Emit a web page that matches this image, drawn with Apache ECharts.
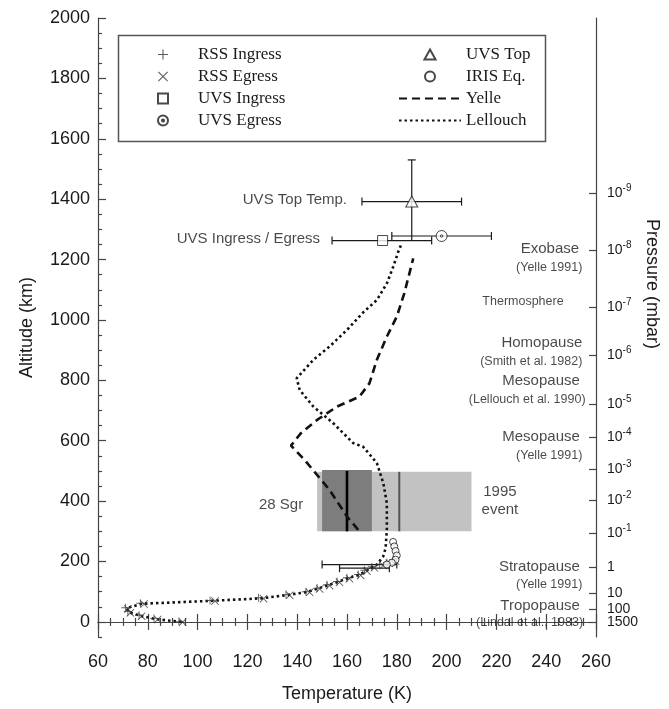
<!DOCTYPE html>
<html><head><meta charset="utf-8">
<script src="https://cdn.jsdelivr.net/npm/echarts@6/dist/echarts.min.js"></script>
<style>html,body{margin:0;padding:0;background:#fff}#c{width:669px;height:709px}</style>
</head><body><div id="c"></div>
<script>
// ---------------- data ----------------
const altitudeTicks = [0, 200, 400, 600, 800, 1000, 1200, 1400, 1600, 1800, 2000];
const altitudeMinorTicks = [-50, 50, 100, 150, 250, 300, 350, 450, 500, 550, 650, 700, 750, 850, 900, 950, 1050, 1100, 1150, 1250, 1300, 1350, 1450, 1500, 1550, 1650, 1700, 1750, 1850, 1900, 1950];
const pressureAlt = [0, 43, 96, 182, 295, 404, 507, 613, 722, 884, 1043, 1232, 1420];
const pressureLabels = ['1500', '100', '10', '1', '10{s|-1}', '10{s|-2}', '10{s|-3}', '10{s|-4}', '10{s|-5}', '10{s|-6}', '10{s|-7}', '10{s|-8}', '10{s|-9}'];

const rssIngress = [[92.5,1],[82.5,11],[76.5,22],[72,34],[71,47],[77,62],[105,71],[124.5,80],[135.5,91],[143.5,100],[148,112],[152,123],[156,134],[160,146],[164.5,157],[167,171],[170,183],[173,191],[176,197],[178.5,206]];
const rssEgress = [[94,-1],[84,8],[77.5,19],[73,30],[72,43],[78.5,59],[107,69],[126.5,77],[137,88],[145,98],[149,109],[153,120],[157,131],[161,143],[165.5,154],[168,168],[171,179],[174.5,187],[177,194],[179.5,201]];
const uvsIngress = [[174.3,1263]];
const uvsEgress = [[198,1278]];
const uvsTop = [[186,1392]];
const irisEq = [[178.5,265],[179,250],[179.5,235],[180,220],[179.5,206],[178,196],[176,190]];

const yelle = [[164.5,305],[160,349],[153,437],[143,536],[137.5,584],[141.5,625],[148,669],[156,713],[165,746],[169,790],[172,868],[176,945],[180,1011],[183,1088],[186.6,1204]];
const lellouch = [[93.5,0],[83.5,9],[77,20],[72.5,32],[71.5,45],[77.5,60],[106,70],[125.5,78],[136,89],[144,99],[148.5,111],[152.5,122],[156.5,133],[160.5,145],[165,156],[168,170],[172,190],[174.5,216],[175.5,244],[176,305],[176,393],[174.6,459],[172,526],[166.5,580],[162.5,592],[154.5,658],[146.5,713],[141,768],[139.8,807],[146.5,868],[153,912],[160,967],[166.5,1025],[172,1066],[176,1121],[178.6,1177],[180.6,1226],[182,1254]];

// horizontal error bars: [altitude, T low, T high]
const xErrorBars = [[1392,166,206],[1263,154,194],[1278,178,218],[190,150,180],[178,157,177]];
// vertical error bars: [T, alt low, alt high]
const yErrorBars = [[186,1265,1530]];

// occultation regions: [T0, T1, alt0, alt1]
const regions = [[148,210,300,497],[150,170,300,503]];
const regionLines = [[160,300,500],[181,300,497]];

const annotations = [
  ['Exobase',253.2,1235,'big'],['(Yelle 1991)',254.5,1172,'small'],['Thermosphere',247,1060,'small'],
  ['Homopause',254.5,924,'big'],['(Smith et al. 1982)',254.5,861,'small'],
  ['Mesopause',253.5,798,'big'],['(Lellouch et al. 1990)',255.8,735,'small'],
  ['Mesopause',253.5,613,'big'],['(Yelle 1991)',254.5,550,'small'],
  ['Stratopause',253.5,182,'big'],['(Yelle 1991)',254.5,123,'small'],
  ['Tropopause',253.5,53,'big'],['(Lindal et al., 1983)',254.8,-3,'small'],
  ['UVS Top Temp.',160,1397,'big'],['UVS Ingress / Egress',149.2,1270,'big'],['28 Sgr',142.4,387,'big']
];
const centerNotes = [['1995\nevent',221.4,400]];

// ---------------- styles ----------------
const FONT = 'Liberation Sans';
const INK = '#1a1a1a';
const regionColors = ['#c2c2c2', '#7d7d7d'];
const regionLineStyles = [{stroke:'#000', lineWidth:2.6}, {stroke:'#555', lineWidth:2}];
const plusPath = 'path://M4,0H5V4H9V5H5V9H4V5H0V4H4Z';
const crossPath = 'path://M0,0.7L0.7,0L4.5,3.8L8.3,0L9,0.7L5.2,4.5L9,8.3L8.3,9L4.5,5.2L0.7,9L0,8.3L3.8,4.5Z';
const ringDotPath = 'path://M5,0A5,5,0,1,1,4.99,0ZM5,3.9A1.1,1.1,0,1,1,4.99,3.9Z';
const squarePath = 'path://M0,0H10V10H0Z';
const trianglePath = 'path://M5,0L10,9L0,9Z';

function errXItem(params, api) {
  const y = api.value(0), lo = api.value(1), hi = api.value(2);
  const a = api.coord([lo, y]), b = api.coord([hi, y]);
  const c = 4, st = {stroke: INK, lineWidth: 1.2};
  return {type:'group', children:[
    {type:'line', shape:{x1:a[0],y1:a[1],x2:b[0],y2:b[1]}, style:st},
    {type:'line', shape:{x1:a[0],y1:a[1]-c,x2:a[0],y2:a[1]+c}, style:st},
    {type:'line', shape:{x1:b[0],y1:b[1]-c,x2:b[0],y2:b[1]+c}, style:st}
  ]};
}
function errYItem(params, api) {
  const x = api.value(0), lo = api.value(1), hi = api.value(2);
  const a = api.coord([x, lo]), b = api.coord([x, hi]);
  const c = 4, st = {stroke: INK, lineWidth: 1.2};
  return {type:'group', children:[
    {type:'line', shape:{x1:a[0],y1:a[1],x2:b[0],y2:b[1]}, style:st},
    {type:'line', shape:{x1:b[0]-c,y1:b[1],x2:b[0]+c,y2:b[1]}, style:st}
  ]};
}
function regionItem(params, api) {
  const p0 = api.coord([api.value(0), api.value(3)]);
  const p1 = api.coord([api.value(1), api.value(2)]);
  return {type:'rect', shape:{x:p0[0], y:p0[1], width:p1[0]-p0[0], height:p1[1]-p0[1]},
    style:{fill: regionColors[params.dataIndex]}};
}
function regionLineItem(params, api) {
  const a = api.coord([api.value(0), api.value(1)]), b = api.coord([api.value(0), api.value(2)]);
  return {type:'line', shape:{x1:a[0],y1:a[1],x2:b[0],y2:b[1]}, style: regionLineStyles[params.dataIndex]};
}

const axisLineStyle = {color:'#444', width:1.2};
const hollow = {color:'#fff', borderColor:INK, borderWidth:1};
const legendText = {fontFamily:'Liberation Serif', fontSize:17, color:INK};
const hiddenSymbol = {color:'rgba(0,0,0,0)', borderColor:'rgba(0,0,0,0)', borderWidth:0};
const pressureFormatter = function(v){ const i = pressureAlt.indexOf(v); return i>=0 ? pressureLabels[i] : ''; };
// split pressure labels over two overlaid right axes so that closely spaced labels are all kept
const pressureSetA = pressureAlt.filter((v, i) => i !== 1);
const pressureSetB = pressureAlt.filter((v, i) => i === 1);
function pressureAxis(values, showLine) {
  return {type:'value', position:'right', min:-50, max:2000,
    axisLine:{show:showLine, lineStyle:axisLineStyle}, splitLine:{show:false},
    axisTick:{inside:true, length:7, lineStyle:axisLineStyle, customValues:values},
    axisLabel:{fontFamily:FONT, fontSize:14, lineHeight:14, color:INK, margin:11, customValues:values,
      hideOverlap:false, formatter:pressureFormatter,
      rich:{s:{fontFamily:FONT, fontSize:10, color:INK, padding:[0,0,10,0]}}}};
}

const chart = echarts.init(document.getElementById('c'), null, {renderer:'canvas'});
chart.setOption({
  animation:false,
  backgroundColor:'#fff',
  grid:{left:98, right:73, top:18, bottom:72},
  xAxis:[
    {type:'value', position:'bottom', min:60, max:260, interval:20,
     name:'Temperature (K)', nameLocation:'middle', nameGap:48,
     nameTextStyle:{fontFamily:FONT, fontSize:18, color:INK},
     axisLine:{lineStyle:axisLineStyle}, splitLine:{show:false},
     axisTick:{inside:true, length:8, lineStyle:axisLineStyle},
     minorTick:{show:true, splitNumber:4, length:4, lineStyle:axisLineStyle},
     axisLabel:{fontFamily:FONT, fontSize:18, color:INK, margin:16}},
    {type:'value', position:'top', min:60, max:260, interval:20,
     axisLine:{lineStyle:axisLineStyle}, splitLine:{show:false},
     axisTick:{inside:true, length:8, lineStyle:axisLineStyle},
     minorTick:{show:true, splitNumber:4, length:4, lineStyle:axisLineStyle},
     axisLabel:{show:false}}
  ],
  yAxis:[
    {type:'value', position:'left', min:-50, max:2000,
     name:'Altitude (km)', nameLocation:'middle', nameGap:62, nameRotate:90,
     nameTextStyle:{fontFamily:FONT, fontSize:18, color:INK},
     axisLine:{lineStyle:axisLineStyle}, splitLine:{show:false},
     axisTick:{inside:true, length:8, lineStyle:axisLineStyle, customValues:altitudeTicks},
     axisLabel:{fontFamily:FONT, fontSize:18, color:INK, margin:8, customValues:altitudeTicks,
       formatter:function(v){ return String(v); }}},
    pressureAxis(pressureSetA, true),
    pressureAxis(pressureSetB, false),
    {type:'value', position:'left', min:-50, max:2000,
     axisLine:{show:false}, splitLine:{show:false},
     axisTick:{inside:true, length:4, lineStyle:axisLineStyle, customValues:altitudeMinorTicks},
     axisLabel:{show:false}}
  ],
  legend:[
    {data:['RSS Ingress','RSS Egress','UVS Ingress','UVS Egress'], orient:'vertical',
     left:152, top:41, itemWidth:60, itemHeight:10, itemGap:5, selectedMode:false,
     textStyle:legendText},
    {data:['UVS Top','IRIS Eq.',
           {name:'Yelle', itemStyle:hiddenSymbol},
           {name:'Lellouch', itemStyle:hiddenSymbol}], orient:'vertical',
     left:393, top:41, itemWidth:62, itemHeight:10, itemGap:5, selectedMode:false,
     textStyle:legendText}
  ],
  graphic:[
    {type:'rect', left:116, top:33, shape:{width:427, height:106}, style:{fill:'none', stroke:'#555', lineWidth:1.5}, z:100},
    {type:'text', x:652, y:284, rotation:-Math.PI/2,
     style:{text:'Pressure (mbar)', fontFamily:FONT, fontSize:18, fill:INK, align:'center', verticalAlign:'middle'}}
  ],
  series:[
    {type:'custom', name:'regions', data:regions, renderItem:regionItem, encode:{x:[0,1], y:[2,3]}, z:1, silent:true},
    {type:'custom', name:'regionLines', data:regionLines, renderItem:regionLineItem, encode:{x:0, y:[1,2]}, z:2, silent:true},
    {type:'custom', name:'xerr', data:xErrorBars, renderItem:errXItem, encode:{x:[1,2], y:0}, z:3, silent:true},
    {type:'custom', name:'yerr', data:yErrorBars, renderItem:errYItem, encode:{x:0, y:[1,2]}, z:3, silent:true},
    {type:'line', name:'Yelle', data:yelle, symbol:'none', showSymbol:false, z:4,
     lineStyle:{color:'#111', width:2.6, type:[8,5]}, itemStyle:{color:'#111'}},
    {type:'line', name:'Lellouch', data:lellouch, symbol:'none', showSymbol:false, z:4,
     lineStyle:{color:'#111', width:2.6, type:[2.5,3]}, itemStyle:{color:'#111'}},
    {type:'scatter', name:'RSS Ingress', data:rssIngress, symbol:plusPath, symbolSize:8, z:5,
     itemStyle:{color:'#333'}},
    {type:'scatter', name:'RSS Egress', data:rssEgress, symbol:crossPath, symbolSize:8, z:5,
     itemStyle:{color:'#333'}},
    {type:'scatter', name:'UVS Ingress', data:uvsIngress, symbol:squarePath, symbolSize:10, z:6, itemStyle:hollow},
    {type:'scatter', name:'UVS Egress', data:uvsEgress, symbol:ringDotPath, symbolSize:11, z:6, itemStyle:hollow},
    {type:'scatter', name:'UVS Top', data:uvsTop, symbol:trianglePath, symbolSize:[12,11], z:6, itemStyle:hollow},
    {type:'scatter', name:'IRIS Eq.', data:irisEq, symbol:'circle', symbolSize:7, z:6, itemStyle:hollow},
    {type:'scatter', name:'notes', silent:true, symbolSize:0, z:10,
     data: annotations.map(a => ({name:a[0], value:[a[1], a[2]],
       label:{fontSize: a[3]==='big' ? 15 : 12.5}})),
     label:{show:true, position:'left', distance:0, formatter:'{b}', fontFamily:FONT, color:INK}},
    {type:'scatter', name:'centerNotes', silent:true, symbolSize:0, z:10,
     data: centerNotes.map(a => ({name:a[0], value:[a[1], a[2]]})),
     label:{show:true, position:'inside', formatter:'{b}', fontFamily:FONT, fontSize:15, lineHeight:18, color:INK, align:'center'}}
  ]
});
</script>
</body></html>
